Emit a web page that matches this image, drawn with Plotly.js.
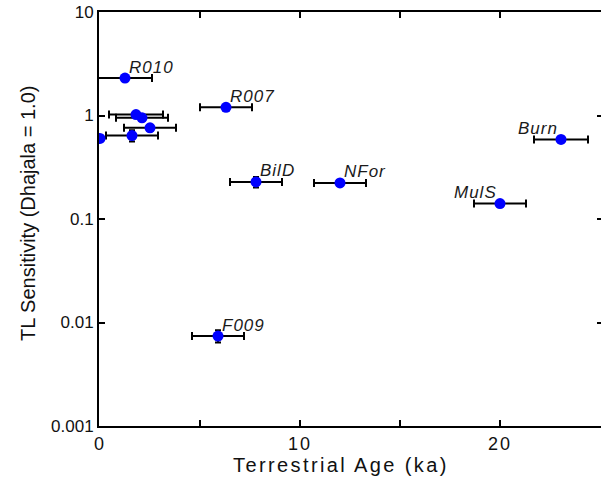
<!DOCTYPE html>
<html>
<head>
<meta charset="utf-8">
<script src="https://cdn.plot.ly/plotly-3.0.1.min.js"></script>
<style>
  html, body { margin: 0; padding: 0; overflow: hidden; background: #fff; }
  #chart { width: 606px; height: 478px; }
  .xtick text { letter-spacing: 2px; }
  g.annotation text { letter-spacing: 1px; }
  g.annotation[data-index="0"] text { letter-spacing: 2.4px; }
  g.annotation[data-index="1"] text { letter-spacing: 0px; }
</style>
</head>
<body>
<div id="chart"></div>
<script>
// Meteorite samples: terrestrial age (ka) vs TL sensitivity (Dhajala = 1.0)
const sampleNames = ['R010', '', '', '', '', '', 'R007', 'BilD', 'NFor', 'F009', 'MulS', 'Burn'];
const ageKa       = [1.25, 1.8, 2.1, 2.5, 1.6, 0.0, 6.3, 7.8, 12.0, 5.9, 20.0, 23.05];
const ageErrKa    = [1.35, 1.35, 1.3, 1.3, 1.3, 0.0, 1.3, 1.3, 1.3, 1.3, 1.3, 1.35];
const tlSens      = [2.3, 1.02, 0.95, 0.76, 0.64, 0.60, 1.2, 0.228, 0.223, 0.0074, 0.141, 0.587];
const tlSensErr   = [0.1, 0.05, 0.05, 0.05, 0.08, 0.03, 0.06, 0.027, 0.012, 0.001, 0.008, 0.03];

const xTickVals = [0, 10, 20];
const xMinorTickVals = [0, 5, 10, 15, 20];
const yTickVals = [10, 1, 0.1, 0.01, 0.001];
const yTickText = ['10', '1', '0.1', '0.01', '0.001'];

const xTitle = 'Terrestrial Age (ka)';
const yTitle = 'TL Sensitivity (Dhajala = 1.0)';

// labels drawn to the upper-left of their point (others upper-right)
const leftSide = new Set(['MulS', 'Burn']);

const trace = {
  type: 'scatter',
  mode: 'markers',
  x: ageKa,
  y: tlSens,
  marker: { color: '#0000ff', size: 11, line: { width: 0 } },
  error_x: { type: 'data', array: ageErrKa, visible: true, color: '#000', thickness: 2, width: 4 },
  error_y: { type: 'data', array: tlSensErr, visible: true, color: '#000', thickness: 2, width: 3 },
  hoverinfo: 'skip'
};

const annotations = [
  { text: xTitle, xref: 'paper', yref: 'paper', x: 0.48, y: -0.093, xanchor: 'center', yanchor: 'middle',
    showarrow: false, font: { family: 'Liberation Sans, Arial, sans-serif', size: 20, color: '#111' } },
  { text: yTitle, xref: 'paper', yref: 'paper', x: -0.142, y: 0.513, xanchor: 'center', yanchor: 'middle',
    textangle: -90, showarrow: false, font: { family: 'Liberation Sans, Arial, sans-serif', size: 20, color: '#111' } }
];

sampleNames.forEach((name, i) => {
  if (!name) return;
  const left = leftSide.has(name);
  annotations.push({
    text: name,
    xref: 'x', yref: 'y',
    x: ageKa[i], y: Math.log10(tlSens[i]),
    xanchor: left ? 'right' : 'left',
    yanchor: 'middle',
    xshift: left ? -3 : 4,
    yshift: 11,
    showarrow: false,
    font: { family: 'Liberation Sans, Arial, sans-serif', size: 17, color: '#1a1a1a', style: 'italic' }
  });
});

const layout = {
  width: 606,
  height: 478,
  margin: { l: 99, r: 3, t: 12, b: 52 },
  paper_bgcolor: '#ffffff',
  plot_bgcolor: '#ffffff',
  showlegend: false,
  font: { family: 'Liberation Sans, Arial, sans-serif', color: '#111' },
  xaxis: {
    type: 'linear',
    range: [-0.05, 25.15],
    tickmode: 'array',
    tickvals: xTickVals,
    ticks: 'inside',
    ticklen: 6,
    tickwidth: 2,
    tickcolor: '#000',
    minor: { tickmode: 'array', tickvals: xMinorTickVals, ticks: 'inside', ticklen: 6, tickwidth: 2, tickcolor: '#000' },
    showline: true,
    linecolor: '#000',
    linewidth: 2,
    mirror: 'ticks',
    showgrid: false,
    zeroline: false,
    tickfont: { size: 18, color: '#111' }
  },
  yaxis: {
    type: 'log',
    range: [-3, 1],
    tickmode: 'array',
    tickvals: yTickVals,
    ticktext: yTickText,
    ticks: 'inside',
    ticklen: 6,
    tickwidth: 2,
    tickcolor: '#000',
    showline: true,
    linecolor: '#000',
    linewidth: 2,
    mirror: 'ticks',
    showgrid: false,
    zeroline: false,
    tickfont: { size: 17, color: '#111' }
  },
  annotations: annotations
};

Plotly.newPlot('chart', [trace], layout, { staticPlot: true, displayModeBar: false });
</script>
</body>
</html>
